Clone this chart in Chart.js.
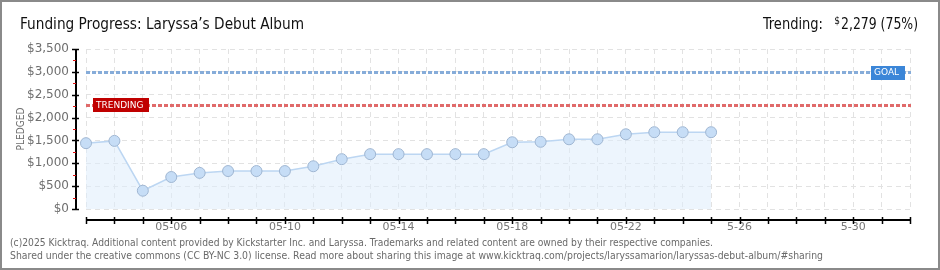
<!DOCTYPE html>
<html>
<head>
<meta charset="utf-8">
<script src="https://cdn.jsdelivr.net/npm/chart.js@4.4.1/dist/chart.umd.min.js"></script>
<style>
html,body{margin:0;padding:0;background:#fff;}
#wrap{position:relative;width:940px;height:270px;}
canvas{display:block;}
</style>
</head>
<body>
<div id="wrap"><canvas id="c" width="940" height="270"></canvas></div>
<script>
// ---- data ----
const categories = ['05-03','05-04','05-05','05-06','05-07','05-08','05-09','05-10','05-11','05-12',
  '05-13','05-14','05-15','05-16','05-17','05-18','05-19','05-20','05-21','05-22',
  '05-23','05-24','05-25','05-26','05-27','05-28','05-29','05-30','05-31','06-01'];
const tickLabels = ['','','','05-06','','','','05-10','','','','05-14','','','','05-18',
  '','','','05-22','','','','5-26','','','','5-30','',''];
const pledged = [1440,1490,400,700,790,830,830,830,935,1090,1200,1200,1200,1200,1200,
  1460,1470,1525,1525,1635,1680,1680,1680];
const yTicks = [0,500,1000,1500,2000,2500,3000,3500];
const goal = 3000;
const trending = 2279;
const trendingPct = 75;
const titleText = 'Funding Progress: Laryssa\u2019s Debut Album';
const footer1 = '(c)2025 Kicktraq. Additional content provided by Kickstarter Inc. and Laryssa. Trademarks and related content are owned by their respective companies.';
const footer2 = 'Shared under the creative commons (CC BY-NC 3.0) license. Read more about sharing this image at www.kicktraq.com/projects/laryssamarion/laryssas-debut-album/#sharing';

const seriesData = categories.map((c,i)=> i < pledged.length ? pledged[i] : null);

function fmt(v){ return '$' + v.toLocaleString('en-US'); }

const deco = {
  id:'deco',
  beforeDatasetsDraw(chart){
    const ctx = chart.ctx, ca = chart.chartArea, y = chart.scales.y;
    ctx.save();
    let gy = Math.round(y.getPixelForValue(goal)) + 0.5;
    ctx.setLineDash([4,2]);
    ctx.lineWidth = 3;
    ctx.strokeStyle = '#86acd9';
    ctx.beginPath(); ctx.moveTo(ca.left, gy); ctx.lineTo(ca.right+1, gy); ctx.stroke();
    let ty = Math.round(y.getPixelForValue(trending)) + 0.5;
    ctx.strokeStyle = '#e06a6a';
    ctx.beginPath(); ctx.moveTo(ca.left, ty); ctx.lineTo(ca.right+1, ty); ctx.stroke();
    ctx.restore();
  },
  afterDraw(chart){
    const ctx = chart.ctx, ca = chart.chartArea, x = chart.scales.x, y = chart.scales.y;
    ctx.save();
    const ax = 76, axY = 220;
    ctx.strokeStyle = '#000';
    ctx.lineWidth = 2;
    ctx.beginPath(); ctx.moveTo(ax, y.getPixelForValue(3500)); ctx.lineTo(ax, ca.bottom+1); ctx.stroke();
    ctx.lineWidth = 1.5;
    yTicks.forEach(v=>{
      const py = Math.round(y.getPixelForValue(v))+0.5;
      ctx.beginPath(); ctx.moveTo(72, py); ctx.lineTo(79, py); ctx.stroke();
    });
    ctx.strokeStyle = '#e01010';
    ctx.lineWidth = 1;
    for (let i=0;i<yTicks.length-1;i++){
      const v = (yTicks[i]+yTicks[i+1])/2;
      const py = Math.round(y.getPixelForValue(v))+0.5;
      ctx.beginPath(); ctx.moveTo(73, py); ctx.lineTo(76, py); ctx.stroke();
    }
    ctx.strokeStyle = '#000';
    ctx.lineWidth = 2;
    ctx.beginPath(); ctx.moveTo(ca.left, axY); ctx.lineTo(ca.right+1, axY); ctx.stroke();
    ctx.lineWidth = 1.5;
    categories.forEach((c,i)=>{
      const px = Math.round(x.getPixelForValue(i))+0.5;
      ctx.beginPath(); ctx.moveTo(px, axY-3); ctx.lineTo(px, axY+4); ctx.stroke();
    });
    // TRENDING label
    const ty = Math.round(y.getPixelForValue(trending));
    ctx.fillStyle = '#c00000';
    ctx.fillRect(93, ty-7, 56, 14);
    ctx.fillStyle = '#fff';
    ctx.font = '9px "DejaVu Sans"';
    ctx.textBaseline = 'middle';
    ctx.textAlign = 'left';
    ctx.fillText('TRENDING', 96, ty+0.5, 50);
    // GOAL label
    const gy = Math.round(y.getPixelForValue(goal));
    ctx.fillStyle = '#3b86d8';
    ctx.fillRect(871, gy-6, 34, 14);
    ctx.fillStyle = '#fff';
    ctx.fillText('GOAL', 874, gy+1, 26);
    // y title
    ctx.save();
    ctx.translate(21, 129);
    ctx.rotate(-Math.PI/2);
    ctx.fillStyle = '#6f6f6f';
    ctx.font = '10px "DejaVu Sans"';
    ctx.textAlign = 'center';
    ctx.fillText('PLEDGED', 0, 0, 43);
    ctx.restore();
    // title
    ctx.textBaseline = 'alphabetic';
    ctx.fillStyle = '#111';
    ctx.font = '16px "DejaVu Sans Condensed", "DejaVu Sans"';
    ctx.textAlign = 'left';
    ctx.fillText(titleText, 20, 29, 284);
    ctx.textAlign = 'right';
    ctx.fillText(trending.toLocaleString('en-US') + ' (' + trendingPct + '%)', 918, 29, 77);
    ctx.font = '10px "DejaVu Sans Condensed", "DejaVu Sans"';
    ctx.fillText('$', 840, 24);
    ctx.font = '16px "DejaVu Sans Condensed", "DejaVu Sans"';
    ctx.fillText('Trending:', 823, 29, 60);
    // footer
    ctx.textAlign = 'left';
    ctx.fillStyle = '#6a6a6a';
    ctx.font = '10px "DejaVu Sans"';
    ctx.fillText(footer1, 10, 246, 703);
    ctx.fillText(footer2, 10, 259, 813);
    // border
    ctx.strokeStyle = '#8a8a8a';
    ctx.lineWidth = 2;
    ctx.strokeRect(1, 1, 938, 268);
    ctx.restore();
  }
};

new Chart(document.getElementById('c'), {
  type: 'line',
  data: {
    labels: categories,
    datasets: [{
      data: seriesData,
      borderColor: '#bcd6f2',
      borderWidth: 1.5,
      backgroundColor: 'rgba(222,236,251,0.55)',
      fill: 'origin',
      tension: 0,
      pointRadius: 5.5,
      pointBackgroundColor: '#c6ddf6',
      pointBorderColor: '#9fb6d2',
      pointBorderWidth: 1,
      spanGaps: false
    }]
  },
  options: {
    responsive: false,
    animation: false,
    devicePixelRatio: 1,
    layout: { padding: { top: 49, right: 30, left: 0, bottom: 0 } },
    plugins: { legend: { display: false }, tooltip: { enabled: false }, title: { display: false } },
    scales: {
      x: {
        type: 'category',
        offset: false,
        afterFit(s){ s.height = 61; },
        grid: { color: '#e2e2e2', lineWidth: 1, drawTicks: false },
        border: { display: false, dash: [5,4] },
        ticks: {
          autoSkip: false, maxRotation: 0, minRotation: 0, padding: 12,
          color: '#777', font: { family: 'DejaVu Sans', size: 11 },
          callback: (v, i) => tickLabels[i]
        }
      },
      y: {
        min: 0, max: 3500,
        afterFit(s){ s.width = 86; },
        afterBuildTicks(s){ s.ticks = yTicks.map(v=>({value:v})); },
        grid: { color: '#e2e2e2', lineWidth: 1, drawTicks: false },
        border: { display: false, dash: [5,4] },
        ticks: {
          padding: 17, color: '#6f6f6f', font: { family: 'DejaVu Sans', size: 12 },
          callback: v => fmt(v)
        }
      }
    }
  },
  plugins: [deco]
});
</script>
</body>
</html>
